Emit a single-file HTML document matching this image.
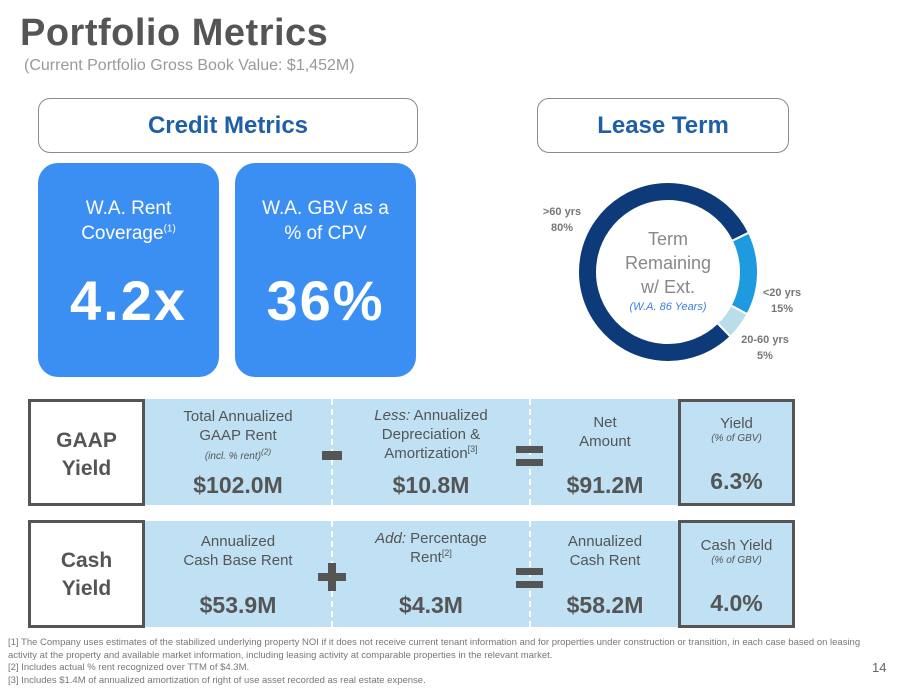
<!DOCTYPE html>
<html><head><meta charset="utf-8"><style>
body{margin:0;width:907px;height:694px;background:#fff;font-family:"Liberation Sans",sans-serif;color:#555;position:relative;overflow:hidden}
.a{position:absolute}
.c{text-align:center}
sup{line-height:0}
.hdr{border:1.5px solid #8a8a8a;border-radius:12px;color:#1f5fa8;font-weight:bold;font-size:24px;display:flex;align-items:center;justify-content:center;box-sizing:border-box}
.card{background:#3b8ff2;border-radius:20px;color:#fff;text-align:center}
.band{background:#bfe1f3}
.lbl{font-size:15px;line-height:19px;color:#555}
.big{font-size:23px;font-weight:bold;color:#555}
.box{border:3px solid #555;box-sizing:border-box;background:#fff}
.dash{border-left:2px dashed #fff}
</style></head><body>
<div class="a" style="left:20px;top:12px;font-size:38px;color:#555;font-weight:bold;letter-spacing:0.5px">Portfolio Metrics</div>
<div class="a" style="left:24px;top:57px;font-size:16px;color:#999">(Current Portfolio Gross Book Value: $1,452M)</div>

<div class="a hdr" style="left:38px;top:98px;width:380px;height:55px">Credit Metrics</div>
<div class="a hdr" style="left:537px;top:98px;width:252px;height:55px">Lease Term</div>

<div class="a card" style="left:38px;top:163px;width:181px;height:214px">
<div style="margin-top:33px;font-size:19px;line-height:25px">W.A. Rent<br>Coverage<sup style="font-size:10px">(1)</sup></div>
<div style="margin-top:22px;font-size:56px;font-weight:bold;letter-spacing:2px">4.2x</div></div>
<div class="a card" style="left:235px;top:163px;width:181px;height:214px">
<div style="margin-top:33px;font-size:19px;line-height:25px">W.A. GBV as a<br>% of CPV</div>
<div style="margin-top:22px;font-size:56px;font-weight:bold;letter-spacing:2px">36%</div></div>

<svg class="a" style="left:0;top:0" width="907" height="694">
<g id="donut"></g>
<text x="668" y="245" text-anchor="middle" font-size="18" fill="#888" font-family="Liberation Sans">Term</text>
<text x="668" y="269" text-anchor="middle" font-size="18" fill="#888" font-family="Liberation Sans">Remaining</text>
<text x="668" y="293" text-anchor="middle" font-size="18" fill="#888" font-family="Liberation Sans">w/ Ext.</text>
<text x="668" y="310" text-anchor="middle" font-size="11" font-style="italic" fill="#3b7fd9" font-family="Liberation Sans">(W.A. 86 Years)</text>
<g font-size="11" font-weight="bold" fill="#777" font-family="Liberation Sans" text-anchor="middle">
<text x="562" y="215">&gt;60 yrs</text><text x="562" y="231">80%</text>
<text x="782" y="296">&lt;20 yrs</text><text x="782" y="312">15%</text>
<text x="765" y="343">20-60 yrs</text><text x="765" y="359">5%</text></g>
</svg>

<!-- row 1 -->
<div class="a band" style="left:144px;top:399px;width:651px;height:106px"></div>
<div class="a dash" style="left:331px;top:399px;height:106px"></div>
<div class="a dash" style="left:529px;top:399px;height:106px"></div>
<div class="a box c" style="left:28px;top:399px;width:117px;height:107px;font-size:21px;font-weight:bold;line-height:28px;padding-top:25px">GAAP<br>Yield</div>
<div class="a c lbl" style="left:144px;top:407px;width:188px">Total Annualized<br>GAAP Rent<br><i style="font-size:10px">(incl. % rent)<sup>(2)</sup></i></div>
<div class="a c big" style="left:144px;top:472px;width:188px">$102.0M</div>
<div class="a" style="left:322px;top:451px;width:20px;height:9px;background:#555"></div>
<div class="a c lbl" style="left:332px;top:406px;width:198px"><i>Less:</i> Annualized<br>Depreciation &amp;<br>Amortization<sup style="font-size:9px">[3]</sup></div>
<div class="a c big" style="left:332px;top:472px;width:198px">$10.8M</div>
<div class="a" style="left:516px;top:446px;width:27px;height:7px;background:#555"></div>
<div class="a" style="left:516px;top:459px;width:27px;height:7px;background:#555"></div>
<div class="a c lbl" style="left:530px;top:413px;width:150px">Net<br>Amount</div>
<div class="a c big" style="left:530px;top:472px;width:150px">$91.2M</div>
<div class="a box c" style="left:678px;top:399px;width:117px;height:107px;background:#bfe1f3;padding-top:12px"><div class="lbl">Yield</div><div style="font-size:10px;font-style:italic">(% of GBV)</div><div class="big" style="margin-top:24px">6.3%</div></div>

<!-- row 2 -->
<div class="a band" style="left:144px;top:521px;width:651px;height:106px"></div>
<div class="a dash" style="left:331px;top:521px;height:106px"></div>
<div class="a dash" style="left:529px;top:521px;height:106px"></div>
<div class="a box c" style="left:28px;top:520px;width:117px;height:108px;font-size:21px;font-weight:bold;line-height:28px;padding-top:24px">Cash<br>Yield</div>
<div class="a c lbl" style="left:144px;top:532px;width:188px">Annualized<br>Cash Base Rent</div>
<div class="a c big" style="left:144px;top:592px;width:188px">$53.9M</div>
<div class="a" style="left:318px;top:573px;width:28px;height:8px;background:#555"></div>
<div class="a" style="left:328px;top:563px;width:8px;height:28px;background:#555"></div>
<div class="a c lbl" style="left:332px;top:529px;width:198px"><i>Add:</i> Percentage<br>Rent<sup style="font-size:9px">[2]</sup></div>
<div class="a c big" style="left:332px;top:592px;width:198px">$4.3M</div>
<div class="a" style="left:516px;top:568px;width:27px;height:7px;background:#555"></div>
<div class="a" style="left:516px;top:581px;width:27px;height:7px;background:#555"></div>
<div class="a c lbl" style="left:530px;top:532px;width:150px">Annualized<br>Cash Rent</div>
<div class="a c big" style="left:530px;top:592px;width:150px">$58.2M</div>
<div class="a box c" style="left:678px;top:520px;width:117px;height:108px;background:#bfe1f3;padding-top:13px"><div class="lbl">Cash Yield</div><div style="font-size:10px;font-style:italic">(% of GBV)</div><div class="big" style="margin-top:24px">4.0%</div></div>

<div class="a" style="left:8px;top:637px;font-size:9.5px;line-height:12.5px;color:#777;width:870px">[1] The Company uses estimates of the stabilized underlying property NOI if it does not receive current tenant information and for properties under construction or transition, in each case based on leasing activity at the property and available market information, including leasing activity at comparable properties in the relevant market.<br>[2] Includes actual % rent recognized over TTM of $4.3M.<br>[3] Includes $1.4M of annualized amortization of right of use asset recorded as real estate expense.</div>
<div class="a" style="left:872px;top:660px;font-size:13px;color:#666">14</div>

<script>
const categories=["<20 yrs","20-60 yrs",">60 yrs"];
const shares=[15,5,80];
const colors=["#1e9be0","#b9dde9","#0d3a78"];
const g=document.getElementById('donut');
const cx=668,cy=272,R=90,r=71,start=64;
function pt(a,rad){const t=(a-90)*Math.PI/180;return [cx+rad*Math.cos(t),cy+rad*Math.sin(t)];}
let tot=shares.reduce((a,b)=>a+b,0),a0=start;
shares.forEach((v,i)=>{
 const a1=a0+v/tot*360,large=(a1-a0)>180?1:0;
 const p1=pt(a0,R),p2=pt(a1,R),p3=pt(a1,r),p4=pt(a0,r);
 const p=document.createElementNS('http://www.w3.org/2000/svg','path');
 p.setAttribute('d',`M${p1}A${R},${R} 0 ${large} 1 ${p2}L${p3}A${r},${r} 0 ${large} 0 ${p4}Z`);
 p.setAttribute('fill',colors[i]);p.setAttribute('stroke','#fff');p.setAttribute('stroke-width','2');
 
 
 g.appendChild(p);a0=a1;
});
</script>
</body></html>
